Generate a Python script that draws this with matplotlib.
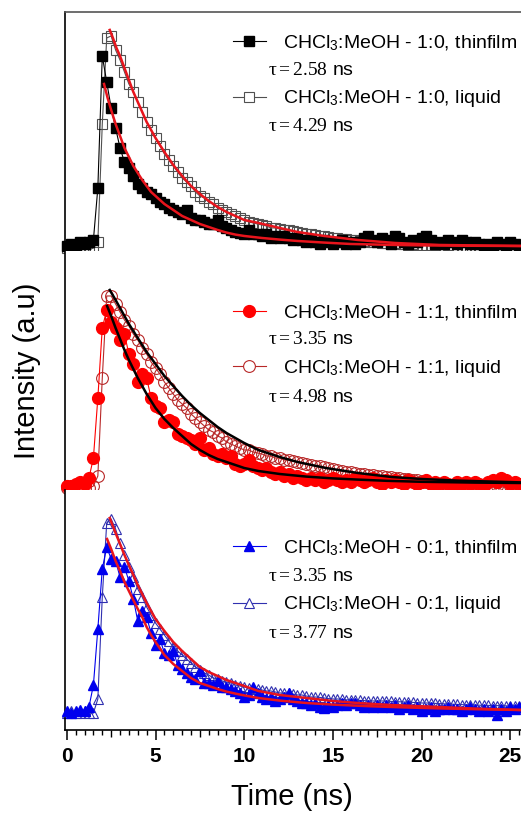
import matplotlib.pyplot as plt
from matplotlib.lines import Line2D
from matplotlib.ticker import MultipleLocator, FuncFormatter
import numpy as np

plt.rcParams['font.family'] = 'Liberation Sans'
plt.rcParams['mathtext.fontset'] = 'custom'
plt.rcParams['mathtext.rm'] = 'Liberation Serif'
plt.rcParams['mathtext.sf'] = 'Liberation Sans'
plt.rcParams['mathtext.it'] = 'Liberation Serif:italic'

# time axis of the decay traces (ns)
t = np.arange(103) * 0.25

# CHCl3:MeOH 1:0
thin_10 = [0.01, 0.02, 0.01, 0.03, 0.02, 0.03, 0.04, 0.30, 0.96, 0.83,
           0.70, 0.60, 0.50, 0.43, 0.40, 0.36, 0.32, 0.30, 0.28, 0.27,
           0.25, 0.23, 0.22, 0.20, 0.19, 0.18, 0.17, 0.19, 0.15, 0.14,
           0.14, 0.13, 0.12, 0.12, 0.14, 0.11, 0.10, 0.09, 0.08, 0.075,
           0.07, 0.09, 0.07, 0.07, 0.06, 0.07, 0.05, 0.06, 0.05, 0.06,
           0.05, 0.04, 0.05, 0.04, 0.03, 0.04, 0.03, 0.02, 0.04, 0.03,
           0.02, 0.03, 0.04, 0.02, 0.03, 0.02, 0.03, 0.05, 0.06, 0.04,
           0.03, 0.05, 0.04, 0.02, 0.06, 0.05, 0.03, 0.02, 0.04, 0.03,
           0.05, 0.06, 0.04, 0.02, 0.03, 0.02, 0.04, 0.03, 0.02, 0.04,
           0.03, 0.02, 0.03, 0.02, 0.01, 0.02, 0.00, 0.03, 0.02, 0.01,
           0.03, 0.02, 0.01]
liq_10 = [0.00, 0.00, -0.01, 0.00, 0.00, -0.01, 0.00, 0.03, 0.62, 1.05,
          1.06, 0.99, 0.94, 0.88, 0.82, 0.78, 0.73, 0.68, 0.63, 0.59,
          0.55, 0.51, 0.47, 0.44, 0.41, 0.38, 0.35, 0.33, 0.31, 0.28,
          0.26, 0.25, 0.23, 0.22, 0.20, 0.19, 0.18, 0.17, 0.16, 0.15,
          0.14, 0.13, 0.125, 0.12, 0.115, 0.11, 0.10, 0.10, 0.095, 0.09,
          0.09, 0.085, 0.08, 0.075, 0.07, 0.07, 0.065, 0.06, 0.06, 0.055,
          0.05, 0.05, 0.045, 0.045, 0.04, 0.04, 0.035, 0.035, 0.03, 0.03,
          0.03, 0.025, 0.025, 0.02, 0.025, 0.02, 0.02, 0.015, 0.02, 0.015,
          0.01, 0.015, 0.01, 0.015, 0.01, 0.01, 0.015, 0.01, 0.005, 0.01,
          0.01, 0.005, 0.01, 0.01, 0.005, 0.01, 0.01, 0.005, 0.01, 0.01,
          0.005, 0.01, 0.01]
fit_thin_10_t = [2.1, 2.3, 2.5, 2.75, 3.0, 3.25, 3.5, 3.75, 4.0, 4.25, 4.5, 4.75, 5.0, 5.5, 6.0, 6.5,
                 7.0, 7.5, 8.0, 8.5, 9.0, 9.5, 10.0, 11.0, 12.0, 13.0, 14.5, 16.0, 18.0, 20.0, 23.0, 25.6]
fit_thin_10 = [0.82, 0.75, 0.69, 0.62, 0.56, 0.50, 0.455, 0.41, 0.375, 0.34, 0.31, 0.28, 0.26, 0.22, 0.19, 0.16,
               0.14, 0.12, 0.105, 0.09, 0.077, 0.067, 0.06, 0.05, 0.042, 0.035, 0.027, 0.02, 0.016, 0.013, 0.011, 0.01]
fit_liq_10_t = [2.42, 2.6, 2.8, 3.0, 3.25, 3.5, 3.75, 4.0, 4.25, 4.5, 4.75, 5.0, 5.5, 6.0, 6.5, 7.0, 7.5,
                8.0, 8.5, 9.0, 9.5, 10.0, 10.8, 12.0, 13.0, 14.5, 16.4, 18.5, 21.0, 25.6]
fit_liq_10 = [1.09, 1.05, 1.00, 0.96, 0.90, 0.84, 0.78, 0.73, 0.68, 0.63, 0.59, 0.55, 0.48, 0.415, 0.36, 0.31, 0.27,
              0.235, 0.205, 0.18, 0.16, 0.14, 0.125, 0.10, 0.08, 0.06, 0.04, 0.025, 0.015, 0.01]

# CHCl3:MeOH 1:1
thin_11 = [0.01, 0.01, 0.02, 0.03, 0.02, 0.05, 0.15, 0.45, 0.80, 0.89,
           0.83, 0.80, 0.74, 0.77, 0.67, 0.62, 0.53, 0.57, 0.55, 0.45,
           0.41, 0.40, 0.33, 0.34, 0.33, 0.27, 0.26, 0.25, 0.24, 0.22,
           0.25, 0.19, 0.20, 0.17, 0.16, 0.17, 0.15, 0.16, 0.12, 0.11,
           0.12, 0.14, 0.11, 0.10, 0.09, 0.10, 0.08, 0.07, 0.08, 0.06,
           0.07, 0.05, 0.06, 0.05, 0.04, 0.05, 0.04, 0.05, 0.03, 0.04,
           0.05, 0.04, 0.03, 0.04, 0.03, 0.05, 0.04, 0.03, 0.04, 0.05,
           0.03, 0.02, 0.04, 0.03, 0.04, 0.03, 0.02, 0.04, 0.03, 0.02,
           0.03, 0.04, 0.02, 0.03, 0.02, 0.03, 0.02, 0.01, 0.03, 0.02,
           0.03, 0.02, 0.03, 0.02, 0.01, 0.03, 0.04, 0.03, 0.05, 0.04,
           0.02, 0.03, 0.02]
liq_11 = [0.00, 0.00, -0.005, 0.00, 0.00, 0.00, 0.01, 0.06, 0.55, 0.96,
          0.96, 0.92, 0.88, 0.84, 0.81, 0.77, 0.74, 0.70, 0.67, 0.63,
          0.60, 0.57, 0.53, 0.50, 0.47, 0.44, 0.42, 0.40, 0.37, 0.35,
          0.33, 0.31, 0.29, 0.28, 0.26, 0.25, 0.23, 0.22, 0.21, 0.20,
          0.19, 0.19, 0.18, 0.175, 0.17, 0.16, 0.16, 0.15, 0.15, 0.14,
          0.14, 0.135, 0.13, 0.125, 0.12, 0.115, 0.11, 0.11, 0.105, 0.10,
          0.095, 0.09, 0.085, 0.08, 0.08, 0.075, 0.07, 0.07, 0.065, 0.065,
          0.06, 0.06, 0.055, 0.055, 0.05, 0.05, 0.045, 0.045, 0.04, 0.04,
          0.035, 0.03, 0.025, 0.02, 0.015, 0.01, 0.01, 0.005, 0.01, 0.005,
          0.005, 0.01, 0.005, 0.005, 0.01, 0.005, 0.005, 0.01, 0.005, 0.005,
          0.01, 0.005, 0.005]
fit_thin_11_t = [2.27, 2.5, 2.75, 3.0, 3.25, 3.5, 3.75, 4.0, 4.25, 4.5, 4.75, 5.0, 5.5, 6.0, 6.5, 7.0, 7.5,
                 8.0, 8.5, 9.0, 9.5, 10.0, 10.8, 12.0, 13.5, 15.0, 16.4, 18.0, 20.0, 23.0, 25.6]
fit_thin_11 = [0.91, 0.86, 0.80, 0.745, 0.69, 0.64, 0.595, 0.55, 0.51, 0.47, 0.435, 0.40, 0.345, 0.30, 0.26, 0.22, 0.19,
               0.165, 0.145, 0.13, 0.115, 0.10, 0.085, 0.07, 0.057, 0.048, 0.042, 0.036, 0.031, 0.027, 0.025]
fit_liq_11_t = [2.42, 2.75, 3.0, 3.25, 3.5, 3.75, 4.0, 4.25, 4.5, 4.75, 5.0, 5.5, 6.0, 6.5, 7.0, 7.5, 8.0,
                8.5, 9.0, 9.5, 10.0, 10.8, 12.0, 13.0, 14.6, 16.4, 18.3, 20.0, 22.0, 25.6]
fit_liq_11 = [0.99, 0.94, 0.90, 0.86, 0.82, 0.785, 0.75, 0.715, 0.68, 0.65, 0.62, 0.56, 0.51, 0.46, 0.415, 0.375, 0.34,
              0.305, 0.275, 0.25, 0.225, 0.19, 0.155, 0.13, 0.10, 0.075, 0.055, 0.045, 0.037, 0.028]

# CHCl3:MeOH 0:1
thin_01 = [0.01, 0.00, 0.01, 0.015, 0.01, 0.03, 0.14, 0.42, 0.72, 0.83,
           0.77, 0.76, 0.68, 0.73, 0.66, 0.57, 0.46, 0.51, 0.48, 0.40,
           0.34, 0.37, 0.30, 0.29, 0.31, 0.24, 0.22, 0.20, 0.18, 0.17,
           0.21, 0.15, 0.15, 0.14, 0.16, 0.13, 0.13, 0.12, 0.11, 0.10,
           0.08, 0.09, 0.13, 0.10, 0.08, 0.07, 0.08, 0.06, 0.07, 0.08,
           0.10, 0.07, 0.06, 0.05, 0.05, 0.04, 0.05, 0.03, 0.025, 0.04,
           0.03, 0.04, 0.05, 0.04, 0.05, 0.05, 0.04, 0.03, 0.04, 0.03,
           0.04, 0.03, 0.04, 0.03, 0.04, 0.02, 0.03, 0.04, 0.02, 0.03,
           0.01, 0.02, 0.03, 0.01, 0.02, 0.02, 0.03, 0.02, 0.02, 0.01,
           0.02, 0.03, 0.02, 0.01, 0.02, 0.01, 0.02, -0.01, 0.02, 0.01,
           0.03, 0.02, 0.03]
liq_01 = [0.00, 0.01, 0.00, 0.00, 0.01, 0.00, 0.00, 0.07, 0.58, 0.95,
          0.97, 0.92, 0.85, 0.79, 0.73, 0.68, 0.62, 0.58, 0.53, 0.49,
          0.45, 0.42, 0.39, 0.36, 0.33, 0.31, 0.29, 0.27, 0.25, 0.23,
          0.215, 0.20, 0.19, 0.175, 0.17, 0.16, 0.155, 0.15, 0.14, 0.135,
          0.13, 0.125, 0.12, 0.12, 0.115, 0.11, 0.11, 0.105, 0.10, 0.10,
          0.10, 0.095, 0.09, 0.09, 0.085, 0.08, 0.08, 0.078, 0.075, 0.072,
          0.07, 0.07, 0.068, 0.066, 0.065, 0.065, 0.063, 0.062, 0.06, 0.06,
          0.06, 0.06, 0.06, 0.058, 0.057, 0.056, 0.055, 0.055, 0.053, 0.052,
          0.05, 0.05, 0.049, 0.048, 0.047, 0.046, 0.045, 0.044, 0.043, 0.042,
          0.041, 0.04, 0.04, 0.039, 0.038, 0.038, 0.037, 0.037, 0.036, 0.036,
          0.035, 0.035, 0.035]
fit_thin_01_t = [2.27, 2.5, 2.75, 3.0, 3.25, 3.5, 3.75, 4.0, 4.25, 4.5, 4.75, 5.0, 5.5, 6.0, 6.5, 7.0, 7.5,
                 8.0, 8.5, 9.0, 9.5, 10.0, 10.8, 12.0, 13.5, 15.0, 17.0, 19.0, 21.0, 23.0, 25.6]
fit_thin_01 = [0.87, 0.82, 0.76, 0.71, 0.655, 0.61, 0.565, 0.52, 0.48, 0.43, 0.39, 0.355, 0.29, 0.245, 0.21, 0.175, 0.15,
               0.135, 0.12, 0.107, 0.097, 0.088, 0.075, 0.062, 0.05, 0.042, 0.034, 0.028, 0.023, 0.019, 0.015]
fit_liq_01_t = [2.42, 2.75, 3.0, 3.25, 3.5, 3.75, 4.0, 4.25, 4.5, 4.75, 5.0, 5.5, 6.0, 6.5, 7.0, 7.5, 8.0,
                8.5, 9.0, 9.5, 10.0, 10.8, 12.0, 13.5, 15.0, 16.4, 18.3, 21.0, 23.0, 25.6]
fit_liq_01 = [0.975, 0.90, 0.845, 0.79, 0.74, 0.69, 0.64, 0.595, 0.55, 0.51, 0.47, 0.41, 0.355, 0.31, 0.27, 0.23, 0.205,
              0.185, 0.165, 0.15, 0.135, 0.11, 0.09, 0.075, 0.06, 0.05, 0.04, 0.03, 0.022, 0.015]

ratios = ['1:0', '1:1', '0:1']
tau_thin = [2.58, 3.35, 3.35]
tau_liq = [4.29, 4.98, 3.77]

thin_data = [thin_10, thin_11, thin_01]
liq_data = [liq_10, liq_11, liq_01]
fit_thin = [(fit_thin_10_t, fit_thin_10), (fit_thin_11_t, fit_thin_11), (fit_thin_01_t, fit_thin_01)]
fit_liq = [(fit_liq_10_t, fit_liq_10), (fit_liq_11_t, fit_liq_11), (fit_liq_01_t, fit_liq_01)]

# styles per panel
markers = ['s', 'o', '^']
thin_col = ['black', '#ff0000', '#0000ee']
liq_col = ['#505050', '#b82828', '#3030b0']
fit_col = ['#e8141c', 'black', '#e8141c']
msize = [7, 8.5, 7.5]

rects = [(0.1248, 0.6913, 0.8752, 0.294),
         (0.1248, 0.3973, 0.8752, 0.294),
         (0.1248, 0.1021, 0.8752, 0.2952)]
ylims = [(-0.015, 1.18), (-0.01, 1.185), (-0.085, 1.115)]
leg_y = [(0.870, 0.636), (0.741, 0.510), (0.758, 0.521)]
tau_y = [(0.757, 0.519), (0.628, 0.389), (0.6375, 0.404)]

fig = plt.figure(figsize=(5.21, 8.13), dpi=100)

for i in range(3):
    ax = fig.add_axes(rects[i])
    ax.plot(t, liq_data[i], color=liq_col[i], lw=0.8, marker=markers[i], ms=msize[i],
            mfc='none', mec=liq_col[i], mew=0.8, clip_on=False, zorder=2)
    ax.plot(t, thin_data[i], color=thin_col[i], lw=0.8, marker=markers[i], ms=msize[i],
            mfc=thin_col[i], mec=thin_col[i], clip_on=False, zorder=3)
    ax.plot(fit_thin[i][0], fit_thin[i][1], color=fit_col[i], lw=1.8, zorder=4)
    ax.plot(fit_liq[i][0], fit_liq[i][1], color=fit_col[i], lw=1.8, zorder=4)
    ax.set_xlim(-0.1, 25.6)
    ax.set_ylim(*ylims[i])
    ax.set_yticks([])

    for s in ['top', 'right', 'bottom']:
        ax.spines[s].set_visible(False)
    ax.spines['left'].set_linewidth(1.2)
    if i == 0:
        ax.spines['top'].set_visible(True)
        ax.spines['top'].set_color('#555555')
        ax.spines['top'].set_linewidth(1.2)
    if i == 2:
        ax.spines['bottom'].set_visible(True)
        ax.spines['bottom'].set_linewidth(1.2)
        ax.xaxis.set_major_locator(MultipleLocator(5))
        ax.xaxis.set_minor_locator(MultipleLocator(0.5))
        ax.tick_params(axis='x', which='major', direction='out', length=7.2, width=1.1,
                       labelsize=15, pad=5)
        ax.tick_params(axis='x', which='minor', direction='out', length=3.6, width=1.0)
        for lab in ax.get_xticklabels():
            lab.set_fontweight('bold')
        # ticks halfway between labels are a bit longer
        locs = ax.xaxis.get_minorticklocs()
        for tk, loc in zip(ax.xaxis.get_minor_ticks(len(locs)), locs):
            if abs(loc % 5 - 2.5) < 1e-6:
                tk.tick1line.set_markersize(5.0)
    else:
        ax.set_xticks([])

    labels = ['CHCl$_\\mathsf{3}$:MeOH - %s, thinfilm' % ratios[i],
              'CHCl$_\\mathsf{3}$:MeOH - %s, liquid' % ratios[i]]
    handles = [Line2D([], [], color=thin_col[i], lw=0.8, marker=markers[i], ms=msize[i],
                      mfc=thin_col[i], mec=thin_col[i]),
               Line2D([], [], color=liq_col[i], lw=0.8, marker=markers[i], ms=msize[i],
                      mfc='white', mec=liq_col[i], mew=0.8)]
    for k in range(2):
        leg = ax.legend([handles[k]], [labels[k]], loc='center left',
                        bbox_to_anchor=(0.368, leg_y[i][k]), frameon=False,
                        fontsize=14, handlelength=1.7, handletextpad=0.9,
                        borderpad=0, borderaxespad=0)
        if k == 0:
            ax.add_artist(leg)
    taus = [tau_thin[i], tau_liq[i]]
    for k in range(2):
        ax.text(0.445, tau_y[i][k], r'$\mathrm{τ = %.2f}$ ns' % taus[k],
                transform=ax.transAxes, fontsize=14, va='center', ha='left')

fig.text(0.052, 0.544, 'Intensity (a.u)', rotation=90, fontsize=21, ha='center', va='center')
fig.text(0.561, 0.02, 'Time (ns)', fontsize=21, ha='center', va='center')

fig.savefig('out.png', dpi=100)
